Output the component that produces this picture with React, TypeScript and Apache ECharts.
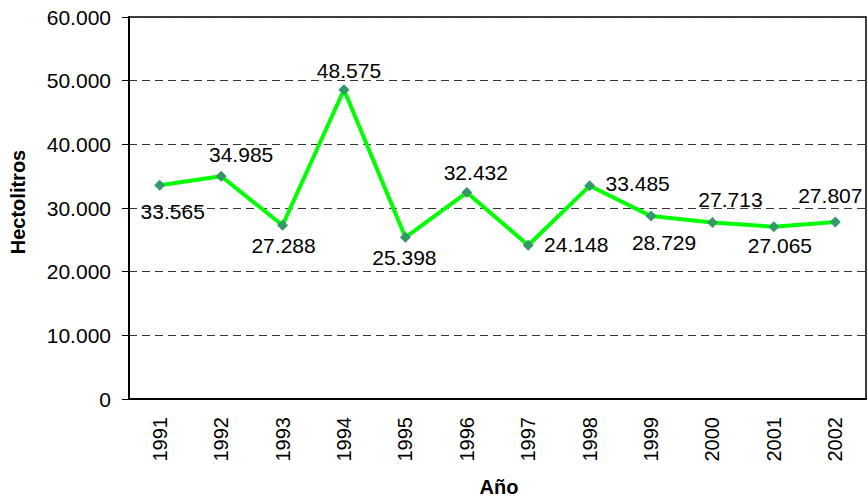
import React, { useEffect, useRef } from "react";
import * as echarts from "echarts";

const years = ["1991", "1992", "1993", "1994", "1995", "1996", "1997", "1998", "1999", "2000", "2001", "2002"];
const hectolitros = [33565, 34985, 27288, 48575, 25398, 32432, 24148, 33485, 28729, 27713, 27065, 27807];
const labelOffsets: [number, number][] = [
  [13, 26], [20, -22], [1, 20], [5, -19], [-1, 20], [9, -20],
  [48, -1], [48, -2], [13, 26], [18, -23], [6, 19], [-5, -26],
];
const yTicks = { min: 0, max: 60000, interval: 10000 };
const xTitle = "Año";
const yTitle = "Hectolitros";

const fmt = (v: number) => {
  if (v === 0) return "0";
  const s = String(Math.round(v));
  return s.replace(/\B(?=(\d{3})+(?!\d))/g, ".");
};

const FONT = "Liberation Sans, Arial, sans-serif";

export default function App() {
  const ref = useRef<HTMLDivElement>(null);
  useEffect(() => {
    if (!ref.current) return;
    const chart = echarts.init(ref.current, null, { renderer: "svg" });
    chart.setOption({
      animation: false,
      backgroundColor: "#fff",
      grid: {
        left: 129, right: 2, top: 17, bottom: 98,
        show: true, borderColor: "#000", borderWidth: 1.5,
      },
      graphic: [
        {
          type: "text",
          x: 17.5,
          y: 202,
          rotation: Math.PI / 2,
          style: {
            text: yTitle,
            font: `bold 20px ${FONT}`,
            fill: "#000",
            align: "center",
            verticalAlign: "middle",
          },
        },
        {
          type: "text",
          x: 499,
          y: 487,
          style: {
            text: xTitle,
            font: `bold 20px ${FONT}`,
            fill: "#000",
            align: "center",
            verticalAlign: "middle",
          },
        },
      ],
      xAxis: [
        {
          type: "category",
          data: years,
          boundaryGap: true,
          axisLine: { lineStyle: { color: "#000", width: 2 } },
          axisTick: { inside: false, length: 6, lineStyle: { color: "#000", width: 1 } },
          axisLabel: { rotate: 90, margin: 18, fontFamily: FONT, fontSize: 20, color: "#000" },
          splitLine: { show: false },
        },
        {
          type: "category",
          data: years,
          position: "bottom",
          boundaryGap: true,
          axisLine: { show: false },
          axisTick: { inside: true, alignWithLabel: true, length: 6, lineStyle: { color: "#000", width: 1 } },
          axisLabel: { show: false },
          splitLine: { show: false },
        },
      ],
      yAxis: {
        type: "value",
        min: yTicks.min,
        max: yTicks.max,
        interval: yTicks.interval,
        axisLine: { show: true, lineStyle: { color: "#000", width: 2 } },
        axisTick: { show: true, length: 7, lineStyle: { color: "#000", width: 1 } },
        axisLabel: { margin: 18, fontFamily: FONT, fontSize: 21, color: "#000", formatter: (v: number) => fmt(v) },
        splitLine: { show: true, lineStyle: { color: "#333", width: 1, type: [8, 5] } },
      },
      series: [
        {
          type: "line",
          data: hectolitros.map((v, i) => ({
            value: v,
            label: { offset: labelOffsets[i] },
          })),
          lineStyle: { color: "#00ff00", width: 4 },
          symbol: "diamond",
          symbolSize: [11, 11],
          itemStyle: { color: "#339966" },
          label: {
            show: true,
            position: "inside",
            fontFamily: FONT,
            fontSize: 21,
            color: "#000",
            formatter: (p: any) => fmt(p.value),
          },
          z: 5,
        },
      ],
    });
    return () => chart.dispose();
  }, []);
  return <div ref={ref} style={{ width: 868, height: 497, position: "absolute", left: 0, top: 0 }} />;
}
